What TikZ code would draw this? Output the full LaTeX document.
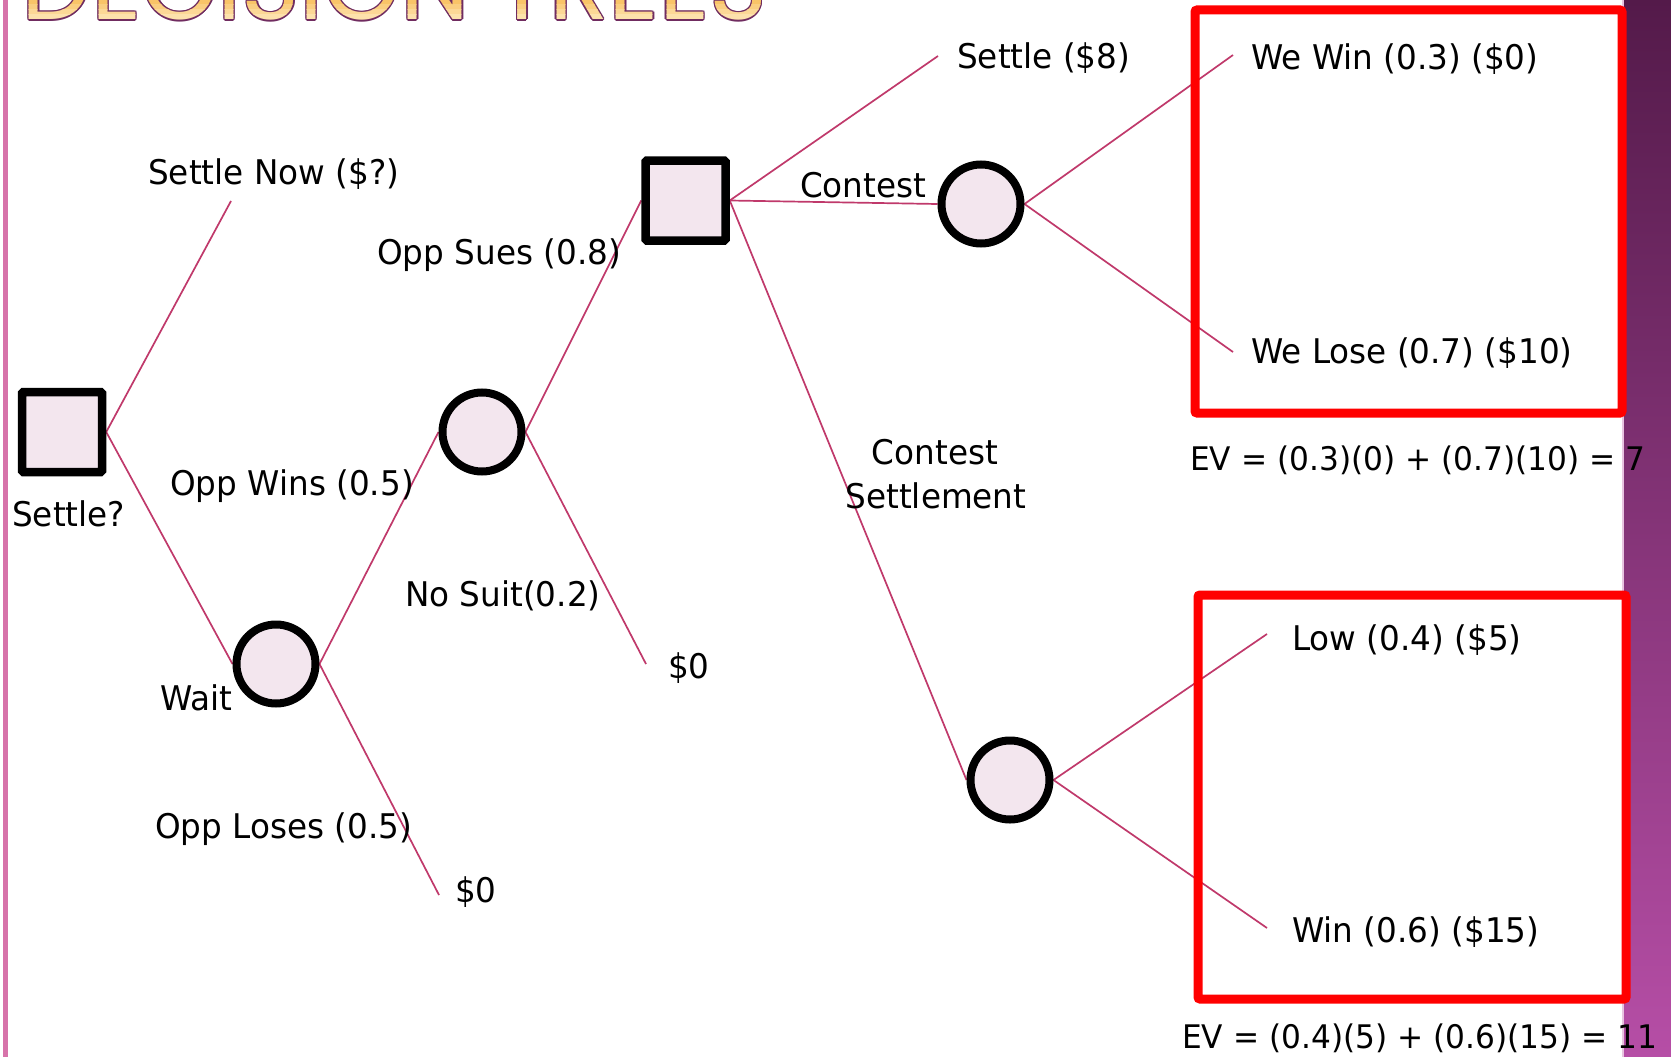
\documentclass[tikz,border=0pt]{standalone}
\usepackage{fontspec}
\setmainfont[FakeStretch=0.96]{DejaVu Sans}
\newfontfamily\titlefont{Poppins}
\usetikzlibrary{backgrounds}

\definecolor{branchc}{RGB}{192,57,107}
\definecolor{nodefill}{RGB}{243,230,238}
\definecolor{boxred}{RGB}{255,0,0}
\definecolor{sidebar}{RGB}{215,115,170}
\definecolor{bandtop}{RGB}{84,26,74}
\definecolor{bandbot}{RGB}{182,78,166}
\definecolor{titleline}{RGB}{112,44,96}
\definecolor{titleA}{RGB}{249,196,104}
\definecolor{titleB}{RGB}{250,206,128}
\definecolor{titleC}{RGB}{252,216,150}
\definecolor{titleD}{RGB}{253,226,172}

\newcommand\decisiontitle{\resizebox{745pt}{!}{\titlefont DECISION TREES}}

\tikzset{
  decision/.style={rectangle, draw=black, line width=8.5pt, fill=nodefill,
    minimum size=80pt, inner sep=0pt, rounded corners=1.5pt},
  chance/.style={circle, draw=black, line width=8pt, fill=nodefill,
    minimum size=79pt, inner sep=0pt},
  branch/.style={draw=branchc, line width=1.7pt},
  lbl/.style={anchor=base west, inner sep=0pt, font=\fontsize{34}{41}\selectfont},
  clbl/.style={anchor=base, inner sep=0pt, font=\fontsize{34}{41}\selectfont},
  evlbl/.style={anchor=base west, inner sep=0pt, font=\fontsize{32.5}{39}\selectfont},
  evbox/.style={draw=boxred, line width=9pt, rounded corners=2pt},
  titletext/.style={anchor=base west, inner sep=0pt, outer sep=0pt}
}

\begin{document}
\begin{tikzpicture}[x=1pt,y=-1pt]
\useasboundingbox (0,0) rectangle (1671,1057);

% decision and chance nodes
\node[decision] (s1) at (62,432) {};
\node[decision] (s2) at (685.5,200.5) {};
\node[chance] (cwait) at (276,664) {};
\node[chance] (csue) at (482,432) {};
\node[chance] (ccont) at (981,204) {};
\node[chance] (cset) at (1010,780) {};

% free ends of the branches
\coordinate (eNow) at (231,201);
\coordinate (eLose) at (439,895);
\coordinate (eNoSuit) at (646,664);
\coordinate (eSettle) at (938,56);
\coordinate (eWin) at (1233,55);
\coordinate (eLoseBig) at (1233,352);
\coordinate (eLow) at (1267,634);
\coordinate (eHigh) at (1267,928);

\begin{scope}[on background layer]
  % page and side decorations
  \fill[white] (0,0) rectangle (1671,1057);
  \shade[top color=bandtop, bottom color=bandbot] (1623,0) rectangle (1671,1057);
  \draw[line width=1.5pt, color={rgb,255:red,232;green,196;blue,224}] (1623,0) -- (1623,1057);
  \draw[line width=5pt, sidebar] (5.5,0) -- (5.5,1057);
  % branches
  \draw[branch] (s1.east) -- (eNow);
  \draw[branch] (s1.east) -- (cwait.west);
  \draw[branch] (cwait.east) -- (csue.west);
  \draw[branch] (cwait.east) -- (eLose);
  \draw[branch] (csue.east) -- (s2.west);
  \draw[branch] (csue.east) -- (eNoSuit);
  \draw[branch] (s2.east) -- (eSettle);
  \draw[branch] (s2.east) -- (ccont.west);
  \draw[branch] (s2.east) -- (cset.west);
  \draw[branch] (ccont.east) -- (eWin);
  \draw[branch] (ccont.east) -- (eLoseBig);
  \draw[branch] (cset.east) -- (eLow);
  \draw[branch] (cset.east) -- (eHigh);
\end{scope}

% title, cut by the top edge: outline then banded fill
\foreach \dx/\dy in {-1.3/0,1.3/0,0/-1.3,0/1.3,-1/-1,1/1,-1/1,1/-1}
  \node[titletext, text=titleline] at (22+\dx,20+\dy) {\decisiontitle};
\foreach \ya/\yb/\col in {-100/5/titleA,5/10/titleB,10/15/titleC,15/40/titleD}{
  \begin{scope}
    \clip (0,\ya) rectangle (1000,\yb);
    \node[titletext, text=\col] at (22,20) {\decisiontitle};
  \end{scope}
}

% branch labels
\node[lbl] (tNow) at (148,184) {Settle Now (\$?)};
\node[lbl] (tQ) at (12,526) {Settle?};
\node[lbl] (tWait) at (160,710) {Wait};
\node[lbl] (tWins) at (170,495) {Opp Wins (0.5)};
\node[lbl] (tLoses) at (155,838) {Opp Loses (0.5)};
\node[lbl] (tZeroA) at (455,902) {\$0};
\node[lbl] (tSues) at (377,264) {Opp Sues (0.8)};
\node[lbl] (tNoSuit) at (405,606) {No Suit(0.2)};
\node[lbl] (tZeroB) at (668,678) {\$0};
\node[lbl] (tSettle) at (957,69) {Settle (\$8)};
\node[lbl] (tContest) at (800,197) {Contest};
\node[clbl] (tCS1) at (935,464) {Contest};
\node[clbl] (tCS2) at (936,508) {Settlement};
\node[lbl] (tWeWin) at (1251,70) {We Win (0.3) (\$0)};
\node[lbl] (tWeLose) at (1251,363) {We Lose (0.7) (\$10)};
\node[lbl] (tLow) at (1292,650) {Low (0.4) (\$5)};
\node[lbl] (tHigh) at (1292,942) {Win (0.6) (\$15)};

% expected-value boxes
\draw[evbox] (1195,10) rectangle (1622,413);
\draw[evbox] (1198,595) rectangle (1626,999);
\node[evlbl] (ev1) at (1190,470) {EV = (0.3)(0) + (0.7)(10) = 7};
\node[evlbl] (ev2) at (1182,1048) {EV = (0.4)(5) + (0.6)(15) = 11};
\end{tikzpicture}
\end{document}
